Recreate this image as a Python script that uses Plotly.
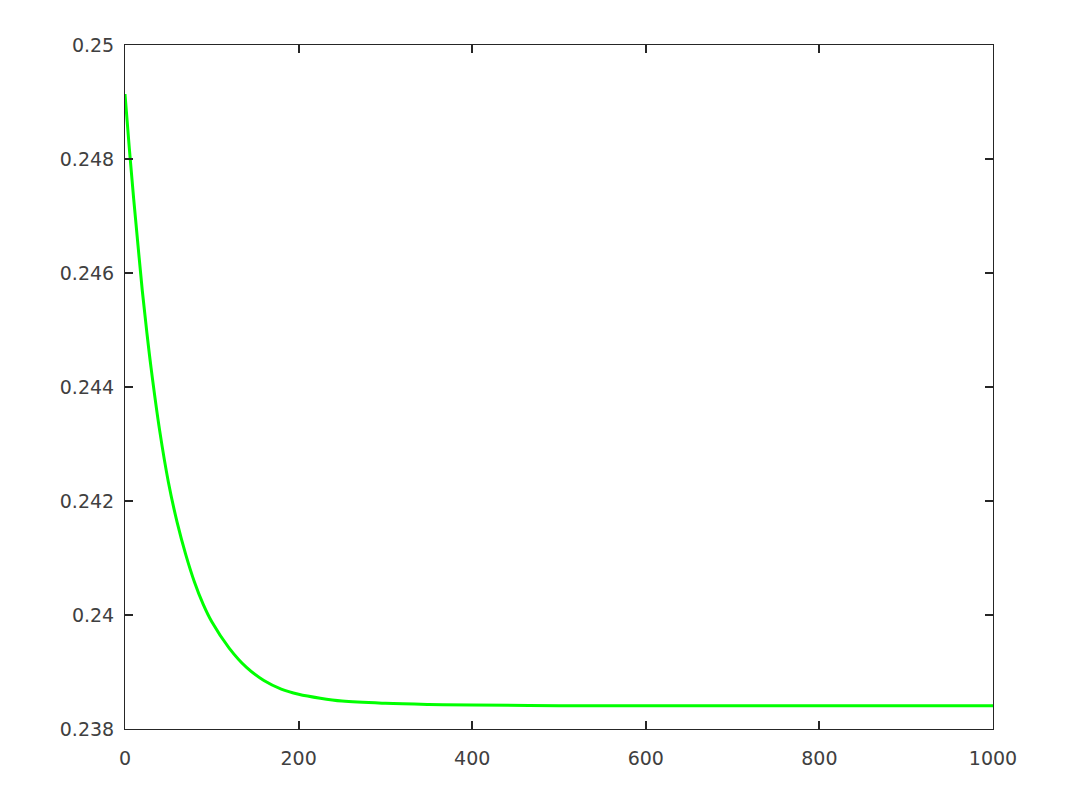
import plotly.graph_objects as go

# Values
x_vals = [0, 5, 10, 15, 20, 25, 30, 40, 50, 60, 70, 80, 90, 100, 120, 140, 160, 180, 200,
          225, 250, 300, 350, 400, 500, 600, 700, 800, 900, 1000]
y_vals = [0.24914, 0.24818, 0.24730, 0.24648, 0.24568, 0.24498, 0.24434, 0.24323, 0.24233,
          0.24163, 0.24106, 0.24058, 0.24019, 0.23988, 0.23942, 0.23908, 0.23885, 0.23870,
          0.23861, 0.23854, 0.23849, 0.23845, 0.23843, 0.23842, 0.23841, 0.23841, 0.23841,
          0.23841, 0.23841, 0.23841]

x_ticks = [0, 200, 400, 600, 800, 1000]
x_tick_text = ["0", "200", "400", "600", "800", "1000"]
y_ticks = [0.238, 0.240, 0.242, 0.244, 0.246, 0.248, 0.250]
y_tick_text = ["0.238", "0.24", "0.242", "0.244", "0.246", "0.248", "0.25"]

fig = go.Figure()
fig.add_trace(go.Scatter(
    x=x_vals, y=y_vals, mode="lines",
    line=dict(color="#00ff00", width=3, shape="spline", smoothing=1),
    showlegend=False, hoverinfo="skip",
))

axis_common = dict(
    showgrid=False, zeroline=False, showline=True, linecolor="#262626", linewidth=1,
    mirror="ticks", ticks="inside", ticklen=8, tickwidth=1.5, tickcolor="#262626",
    tickfont=dict(family="DejaVu Sans", size=19, color="#404040"),
)

fig.update_xaxes(range=[0, 1000], tickvals=x_ticks, ticktext=x_tick_text,
                 ticklabelstandoff=12, **axis_common)
fig.update_yaxes(range=[0.238, 0.250], tickvals=y_ticks, ticktext=y_tick_text,
                 ticklabelstandoff=6, **axis_common)

fig.update_layout(
    width=1070, height=798,
    margin=dict(l=117, r=85, t=37, b=77),
    paper_bgcolor="white", plot_bgcolor="white",
)

fig.write_html("out.html")
